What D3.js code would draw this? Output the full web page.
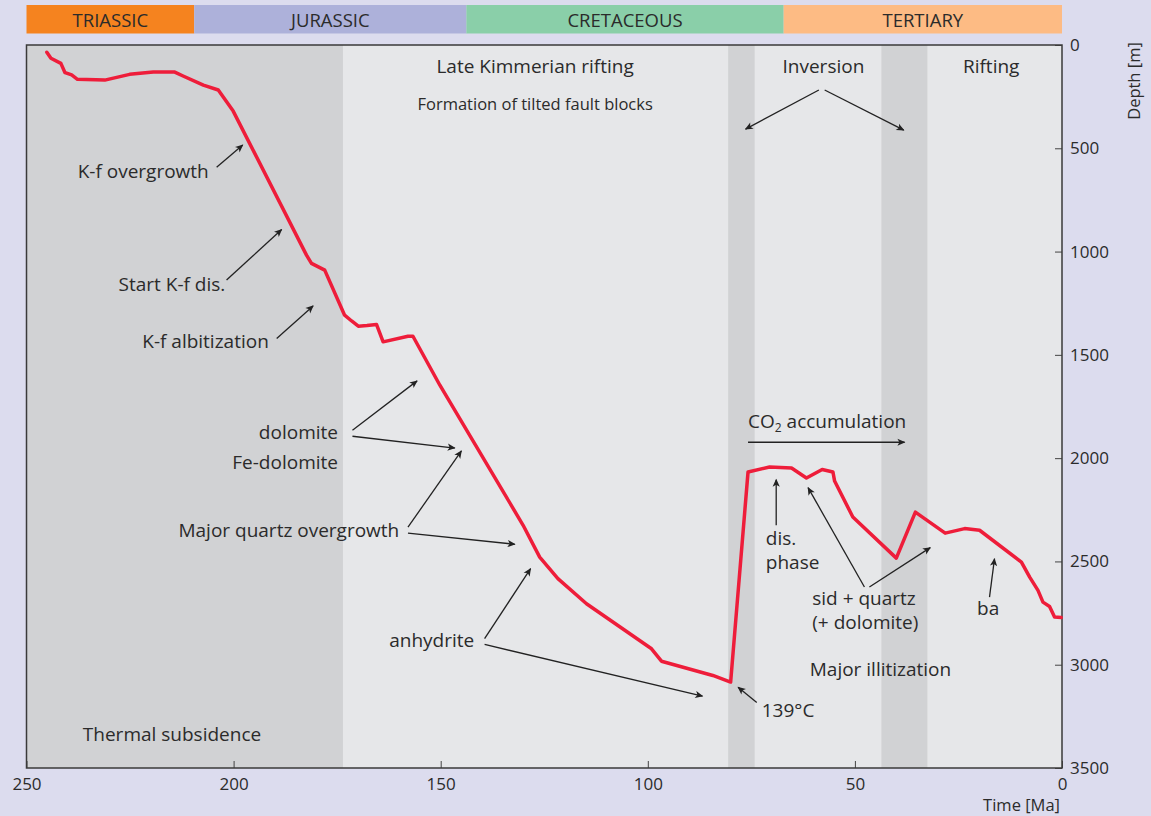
<!DOCTYPE html>
<html>
<head>
<meta charset="utf-8">
<script src="https://cdn.jsdelivr.net/npm/d3@7"></script>
<style>
  html, body { margin: 0; padding: 0; background: #dcdcee; }
  svg text { font-family: "Open Sans", "Noto Sans", sans-serif; fill: #2b2b2b; }
</style>
</head>
<body>
<div id="chart"></div>
<script>
// Geological periods (Ma)
const periodNames = ['TRIASSIC', 'JURASSIC', 'CRETACEOUS', 'TERTIARY'];
const periodStart = [250, 209.5, 143.8, 67.2];
const periodEnd = [209.5, 143.8, 67.2, 0];
const periodColors = ['#f5831f', '#adb1da', '#8acfa9', '#fdbb84'];

// Shaded tectonic intervals (Ma)
const bandStart = [250, 80.6, 43.6];
const bandEnd = [173.6, 74.2, 32.5];

// Burial curve: age (Ma) and depth (m)
const burialAge = [245.1, 244.1, 241.7, 240.7, 239.1, 237.7, 231.1, 225.1, 219.4, 214.2,
    212.2, 207.3, 203.7, 200.1, 182.4, 181.2, 178.0, 173.2, 171.5, 169.9,
    167.8, 165.5, 163.9, 157.9, 156.7, 150.2, 130.1, 126.1, 121.7, 114.8,
    99.1, 96.7, 84.3, 80.0, 75.8, 70.6, 65.3, 61.7, 57.9, 55.3,
    54.9, 50.5, 40.0, 35.4, 28.2, 23.5, 19.9, 9.8, 7.8, 5.8,
    4.6, 3.0, 1.8, 0.2];
const burialDepth = [35, 64, 89, 134, 145, 166, 170, 142, 131, 131,
    150, 194, 218, 320, 1017, 1057, 1090, 1308, 1336, 1361,
    1358, 1353, 1437, 1410, 1410, 1647, 2325, 2479, 2583, 2705,
    2923, 2983, 3052, 3084, 2067, 2043, 2048, 2096, 2055, 2067,
    2111, 2285, 2484, 2261, 2363, 2341, 2349, 2503, 2576, 2640,
    2697, 2718, 2769, 2772];

const xTicks = [250, 200, 150, 100, 50, 0];
const yTicks = [0, 500, 1000, 1500, 2000, 2500, 3000, 3500];

// Text annotations: [lines, age, depth (first baseline), anchor]
const titleLabels = [
    [['Late Kimmerian rifting'], 127.2, 136, 'middle'],
    [['Inversion'], 57.6, 136, 'middle'],
    [['Rifting'], 17.1, 136, 'middle']
];
const noteLabels = [
    [['K-f overgrowth'], 206.0, 643, 'end'],
    [['Start K-f dis.'], 202.0, 1190, 'end'],
    [['K-f albitization'], 191.5, 1468, 'end'],
    [['dolomite'], 174.8, 1905, 'end'],
    [['Fe-dolomite'], 174.8, 2051, 'end'],
    [['Major quartz overgrowth'], 160.0, 2382, 'end'],
    [['anhydrite'], 141.9, 2915, 'end'],
    [['139°C'], 72.5, 3255, 'start'],
    [['Thermal subsidence'], 236.4, 3367, 'start'],
    [['dis.', 'phase'], 71.5, 2422, 'start'],
    [['sid + quartz', '(+ dolomite)'], 60.3, 2713, 'start'],
    [['ba'], 20.5, 2761, 'start'],
    [['Major illitization'], 60.9, 3057, 'start']
];

// Arrows: [fromAge, fromDepth, toAge, toDepth]
const arrows = [
    [58.7, 218, 76.4, 407],
    [57.3, 218, 38.2, 412],
    [204.1, 592, 197.8, 484],
    [201.7, 1138, 188.4, 893],
    [189.6, 1421, 180.8, 1263],
    [171.3, 1865, 155.7, 1626],
    [171.3, 1894, 146.6, 1951],
    [157.9, 2334, 145.0, 1965],
    [157.9, 2363, 132.1, 2417],
    [139.4, 2874, 128.3, 2535],
    [139.4, 2902, 86.8, 3152],
    [73.7, 3183, 78.2, 3109],
    [75.8, 1923, 38.0, 1923],
    [69.0, 2325, 69.0, 2104],
    [47.7, 2624, 61.3, 2143],
    [46.5, 2624, 31.8, 2433],
    [17.5, 2673, 16.3, 2487]
];

const width = 1151, height = 816;
const margin = { top: 45, right: 89, bottom: 48, left: 26.5 };
const plotW = width - margin.left - margin.right;
const plotH = height - margin.top - margin.bottom;

const svg = d3.select('#chart').append('svg')
    .attr('width', width)
    .attr('height', height)
    .style('display', 'block')
    .style('background', '#dcdcee');

const x = d3.scaleLinear().domain([250, 0]).range([0, plotW]);
const y = d3.scaleLinear().domain([0, 3500]).range([0, plotH]);

// Period bar
const periodGroup = svg.append('g')
    .attr('transform', `translate(${margin.left},5)`);
periodGroup.selectAll('rect')
    .data(periodNames)
    .enter()
    .append('rect')
    .attr('x', (d, i) => x(periodStart[i]))
    .attr('y', 0)
    .attr('width', (d, i) => x(periodEnd[i]) - x(periodStart[i]))
    .attr('height', 28.5)
    .attr('fill', (d, i) => periodColors[i]);
periodGroup.selectAll('text')
    .data(periodNames)
    .enter()
    .append('text')
    .attr('x', (d, i) => (x(periodStart[i]) + x(periodEnd[i])) / 2)
    .attr('y', 21.5)
    .attr('text-anchor', 'middle')
    .style('font-size', '18.5px')
    .text(d => d);

const g = svg.append('g')
    .attr('transform', `translate(${margin.left},${margin.top})`);

// Plot background and shaded intervals
g.append('rect')
    .attr('width', plotW)
    .attr('height', plotH)
    .attr('fill', '#e6e7e9');
g.selectAll('.band')
    .data(bandStart)
    .enter()
    .append('rect')
    .attr('class', 'band')
    .attr('x', (d, i) => x(bandStart[i]))
    .attr('y', 0)
    .attr('width', (d, i) => x(bandEnd[i]) - x(bandStart[i]))
    .attr('height', plotH)
    .attr('fill', '#d1d2d4');

// Axes
const xAxis = g.append('g')
    .attr('transform', `translate(0,${plotH})`)
    .call(d3.axisBottom(x).tickValues(xTicks).tickFormat(d3.format('d'))
        .tickSize(-7).tickPadding(10));
const yAxis = g.append('g')
    .attr('transform', `translate(${plotW},0)`)
    .call(d3.axisRight(y).tickValues(yTicks).tickFormat(d3.format('d'))
        .tickSize(-7).tickPadding(8));
[xAxis, yAxis].forEach(a => {
    a.select('.domain').remove();
    a.selectAll('line').attr('stroke', '#444').attr('stroke-width', 1);
    a.selectAll('text')
        .attr('fill', '#2b2b2b')
        .style('font-family', '"Open Sans", "Noto Sans", sans-serif')
        .style('font-size', '17px');
});

// Frame
g.append('rect')
    .attr('width', plotW)
    .attr('height', plotH)
    .attr('fill', 'none')
    .attr('stroke', '#3a3a3a')
    .attr('stroke-width', 1.5);

// Axis titles
svg.append('text')
    .attr('x', margin.left + plotW - 2)
    .attr('y', 811)
    .attr('text-anchor', 'end')
    .style('font-size', '16.5px')
    .text('Time [Ma]');
svg.append('text')
    .attr('transform', 'translate(1140,81) rotate(-90)')
    .attr('text-anchor', 'middle')
    .style('font-size', '16.5px')
    .text('Depth [m]');

// Burial curve
const line = d3.line()
    .x((d, i) => x(burialAge[i]))
    .y((d, i) => y(burialDepth[i]));
g.append('path')
    .datum(burialAge)
    .attr('d', line)
    .attr('fill', 'none')
    .attr('stroke', '#ee1d3a')
    .attr('stroke-width', 3.5)
    .attr('stroke-linejoin', 'round')
    .attr('stroke-linecap', 'round');

// Arrow marker
svg.append('defs').append('marker')
    .attr('id', 'arrowhead')
    .attr('viewBox', '0 0 10 10')
    .attr('refX', 9)
    .attr('refY', 5)
    .attr('markerUnits', 'userSpaceOnUse')
    .attr('markerWidth', 9)
    .attr('markerHeight', 8)
    .attr('orient', 'auto')
    .append('path')
    .attr('d', 'M0,0.5 L10,5 L0,9.5 L2.5,5 Z')
    .attr('fill', '#222');

g.selectAll('.arrow')
    .data(arrows)
    .enter()
    .append('line')
    .attr('class', 'arrow')
    .attr('x1', d => x(d[0]))
    .attr('y1', d => y(d[1]))
    .attr('x2', d => x(d[2]))
    .attr('y2', d => y(d[3]))
    .attr('stroke', '#222')
    .attr('stroke-width', 1.3)
    .attr('marker-end', 'url(#arrowhead)');

// Labels (multi-line labels are one text with tspans)
function drawLabels(cls, rows, size, lineGap) {
    const t = g.selectAll('.' + cls)
        .data(rows)
        .enter()
        .append('text')
        .attr('class', cls)
        .attr('x', d => x(d[1]))
        .attr('y', d => y(d[2]))
        .attr('text-anchor', d => d[3])
        .style('font-size', size);
    t.selectAll('tspan')
        .data(d => d[0].map(s => ({ s, xa: x(d[1]) })))
        .enter()
        .append('tspan')
        .attr('x', d => d.xa)
        .attr('dy', (d, i) => i === 0 ? 0 : lineGap)
        .text(d => d.s);
}
drawLabels('title-label', titleLabels, '19px', 0);
drawLabels('note', noteLabels, '19px', 23.5);

g.append('text')
    .attr('x', x(127.2))
    .attr('y', y(315))
    .attr('text-anchor', 'middle')
    .style('font-size', '16.5px')
    .text('Formation of tilted fault blocks');

// CO2 accumulation with subscript
const co2 = g.append('text')
    .attr('x', x(75.8))
    .attr('y', y(1855))
    .style('font-size', '19px');
co2.append('tspan').text('CO');
co2.append('tspan').attr('dy', 4).style('font-size', '12px').text('2');
co2.append('tspan').attr('dy', -4).text(' accumulation');
</script>
</body>
</html>
